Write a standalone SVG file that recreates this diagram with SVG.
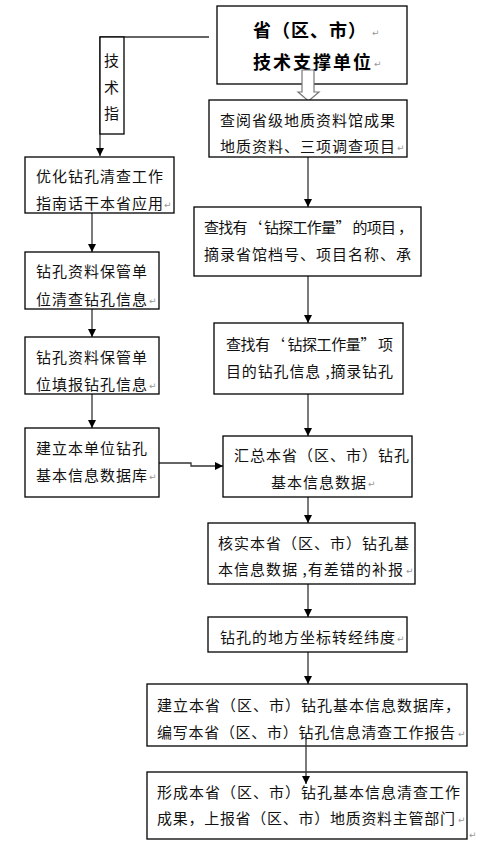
<svg xmlns="http://www.w3.org/2000/svg" width="480" height="849" viewBox="0 0 480 849">
<style>
.box{fill:#fff;stroke:#000;stroke-width:1.3}
.t{font-family:"Noto Sans CJK SC","Noto Sans",sans-serif;font-size:15px;fill:#111;letter-spacing:1px}
.h{font-family:"Noto Sans CJK SC","Noto Sans",sans-serif;font-size:18px;font-weight:bold;fill:#000}
.pm{font-family:"DejaVu Sans",sans-serif;font-size:9px;fill:#999}
.ln{fill:none;stroke:#333;stroke-width:1.3}
</style>
<defs>
<marker id="ah" viewBox="0 0 10 10" refX="10" refY="5" markerWidth="8" markerHeight="8" markerUnits="userSpaceOnUse" orient="auto">
<path d="M0,0 L10,5 L0,10 Z" fill="#000"/>
</marker>
</defs>

<g id="connectors">
<path class="ln" d="M209,37 H100 V156" marker-end="url(#ah)"/>
<path class="ln" d="M92,213 V252" marker-end="url(#ah)"/>
<path class="ln" d="M92,309 V337" marker-end="url(#ah)"/>
<path class="ln" d="M92,394 V428" marker-end="url(#ah)"/>
<path class="ln" d="M159,463 H191 V466 H223" marker-end="url(#ah)"/>
<path class="ln" d="M308,157 V207" marker-end="url(#ah)"/>
<path class="ln" d="M308,276 V323" marker-end="url(#ah)"/>
<path class="ln" d="M308,394 V436" marker-end="url(#ah)"/>
<path class="ln" d="M308,497 V523" marker-end="url(#ah)"/>
<path class="ln" d="M308,584 V617" marker-end="url(#ah)"/>
<path class="ln" d="M308,652 V684" marker-end="url(#ah)"/>
</g>

<g id="top">
<rect class="box" x="217" y="6" width="190" height="78"/>
<text class="h" x="253" y="36.5" letter-spacing="1">省（区、市）</text>
<text class="h" x="253" y="68.5" letter-spacing="2">技术支撑单位</text>
<text class="pm" x="372" y="36">↵</text>
<text class="pm" x="374" y="67">↵</text>
</g>

<g id="hollow-arrow">
<path d="M302,70 H314 V92 H319 L308.5,101 L298,92 H302 Z" fill="#fff" stroke="#777" stroke-width="1.2"/>
</g>

<g id="guide">
<rect class="box" x="100" y="37" width="24" height="97"/>
<text class="t" x="112" y="65.5" text-anchor="middle" letter-spacing="0">技</text>
<text class="t" x="112" y="92.5" text-anchor="middle" letter-spacing="0">术</text>
<text class="t" x="112" y="118.5" text-anchor="middle" letter-spacing="0">指</text>
</g>

<g id="r1">
<rect class="box" x="209" y="100" width="198" height="57"/>
<text class="t" x="220" y="125.5">查阅省级地质资料馆成果</text>
<text class="t" x="220" y="151.5">地质资料、三项调查项目</text>
<text class="pm" x="397" y="151">↵</text>
</g>

<g id="l1">
<rect class="box" x="25" y="157" width="149" height="56"/>
<text class="t" x="36" y="181.5">优化钻孔清查工作</text>
<text class="t" x="36" y="208.5">指南话干本省应用</text>
<text class="pm" x="164" y="208">↵</text>
</g>

<g id="r2">
<rect class="box" x="194" y="207" width="227" height="69"/>
<text class="t" x="204" y="232.5" textLength="210" lengthAdjust="spacing">查找有‘ 钻探工作量” 的项目 ，</text>
<text class="t" x="204" y="259.5">摘录省馆档号、项目名称、承</text>
</g>

<g id="l2">
<rect class="box" x="25" y="252" width="134" height="57"/>
<text class="t" x="36" y="276.5">钻孔资料保管单</text>
<text class="t" x="36" y="304.5">位清查钻孔信息</text>
<text class="pm" x="149" y="304">↵</text>
</g>

<g id="r3">
<rect class="box" x="214" y="323" width="189" height="71"/>
<text class="t" x="226" y="349.5" textLength="168" lengthAdjust="spacing">查找有‘  钻探工作量” 项</text>
<text class="t" x="226" y="376.5" textLength="168" lengthAdjust="spacing">目的钻孔信息 ,摘录钻孔</text>
</g>

<g id="l3">
<rect class="box" x="25" y="337" width="134" height="57"/>
<text class="t" x="36" y="362.5">钻孔资料保管单</text>
<text class="t" x="36" y="389.5">位填报钻孔信息</text>
<text class="pm" x="149" y="389">↵</text>
</g>

<g id="l4">
<rect class="box" x="25" y="428" width="134" height="69"/>
<text class="t" x="36" y="453.5">建立本单位钻孔</text>
<text class="t" x="36" y="480.5">基本信息数据库</text>
<text class="pm" x="149" y="480">↵</text>
</g>

<g id="r4">
<rect class="box" x="223" y="436" width="189" height="61"/>
<text class="t" x="234" y="460.5">汇总本省（区、市）钻孔</text>
<text class="t" x="271" y="487.5">基本信息数据</text>
<text class="pm" x="368" y="487">↵</text>
</g>

<g id="r5">
<rect class="box" x="208" y="523" width="207" height="61"/>
<text class="t" x="218" y="548.5">核实本省（区、市）钻孔基</text>
<text class="t" x="218" y="574.5" textLength="186" lengthAdjust="spacing">本信息数据 ,有差错的补报</text>
<text class="pm" x="406" y="574">↵</text>
</g>

<g id="r6">
<rect class="box" x="208" y="617" width="199" height="35"/>
<text class="t" x="220" y="642.5">钻孔的地方坐标转经纬度</text>
<text class="pm" x="397" y="642">↵</text>
</g>

<g id="r7">
<rect class="box" x="147" y="684" width="320" height="62"/>
<text class="t" x="157" y="710.5">建立本省（区、市）钻孔基本信息数据库，</text>
<text class="t" x="157" y="737.5" letter-spacing="0" textLength="299" lengthAdjust="spacing">编写本省（区、市）钻孔信息清查工作报告</text>
<text class="pm" x="458" y="737">↵</text>
</g>

<g id="r8">
<rect class="box" x="147" y="772" width="320" height="67"/>
<text class="t" x="157" y="797.5">形成本省（区、市）钻孔基本信息清查工作</text>
<text class="t" x="157" y="823.5" letter-spacing="0" textLength="299" lengthAdjust="spacing">成果，上报省（区、市）地质资料主管部门</text>
<text class="pm" x="458" y="823">↵</text>
<text class="pm" x="469" y="838">↵</text>
</g>

<g id="connectors-over">
<path class="ln" d="M306,735 V784" marker-end="url(#ah)"/>
</g>
</svg>
